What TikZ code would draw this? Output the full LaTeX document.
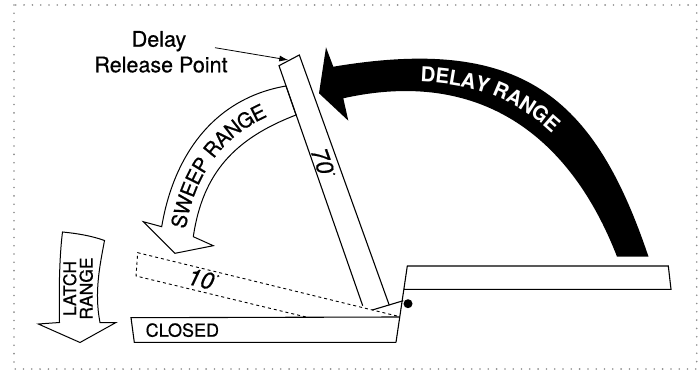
\documentclass[tikz,border=0pt]{standalone}
\usepackage{fontspec}
\setmainfont{TeX Gyre Heros}
\newfontfamily\heavy{TeX Gyre Heros}[FakeBold=0.6]
\newfontfamily\heavyit{TeX Gyre Heros Italic}[FakeBold=0.6]
\usetikzlibrary{decorations.text,arrows.meta}
\begin{document}
\begin{tikzpicture}[x=1pt,y=-1pt,
  frame/.style={draw=black!45, line width=1.8pt, line cap=round, dash pattern=on 0pt off 8.3pt},
  bar/.style={draw=black, line width=1.1pt, line join=miter},
  dashedarm/.style={draw=black, line width=0.9pt, dash pattern=on 3pt off 3pt},
  outlinearrow/.style={draw=black, fill=white, line width=1pt, line join=miter},
  lbl/.style={inner sep=0pt, font=\heavy\fontsize{21.5}{24}\selectfont},
  numlbl/.style={inner sep=0pt, font=\heavyit\fontsize{23.5}{23.5}\selectfont},
]
\useasboundingbox (0,0) rectangle (700,371);
\draw[frame] (14,5) rectangle (696.7,369);

% DELAY RANGE arrow (black)
\fill[black] (648.5,256.7) .. controls (594.1,95.2) and (520.6,35.35) .. (333.3,66.7)
  -- (326,47.3) -- (319,93.3) -- (348.3,120.7) -- (343.3,98.3)
  .. controls (480,67.8) and (570.2,135.8) .. (617,256.7) -- cycle;
\path[decorate, decoration={text along path,
  text={|\fontsize{20.5}{20.5}\selectfont\bfseries\color{white}|DELAY RANGE},
  text align={left, left indent=83pt}, raise=-7pt}]
  (338.3,82.5) .. controls (500.3,51.6) and (582.15,115.5) .. (632.75,256.7);

% SWEEP RANGE arrow (outline)
\filldraw[outlinearrow] (286,86) .. controls (212.1,98.75) and (173.2,157.7) .. (161.7,226.7)
  -- (143.3,221.7) -- (175,253.3) -- (213.3,245.7) -- (193.3,236.7)
  .. controls (202.7,172.4) and (235.4,138.3) .. (296,115) -- cycle;
\path[decorate, decoration={text along path,
  text={|\heavy\fontsize{20.5}{20.5}\selectfont|SWEEP RANGE},
  text align={left, left indent=4pt}, raise=-7.5pt}]
  (177.5,231.7) .. controls (187.95,165.05) and (223.75,118.5) .. (291,100.5);

% LATCH RANGE arrow
\filldraw[outlinearrow] (62.5,232) .. controls (78,233.5) and (92,236) .. (104.5,240.5)
  .. controls (100,265) and (94,292) .. (100,322.5) -- (116,322.5) -- (80,342.5)
  -- (38.3,324) -- (59.5,322.5) .. controls (59,295) and (59,260) .. (62.5,232) -- cycle;
\node[rotate=90, align=center, inner sep=0pt, font=\heavy\fontsize{17.5}{16.5}\selectfont] (latch) at (78,288.5) {LATCH\\RANGE};

% dashed 10 degree arm
\draw[dashedarm] (397,316) -- (137.7,252.7) -- (136,276) -- (306,317);

% closed bar and right bar
\draw[bar] (399.7,317) -- (131,317.7) -- (134.3,342.3) -- (396,342.3);
\draw[bar] (396,342.3) -- (407.3,266) -- (668.3,266) -- (671,289.3) -- (404,289.3);

% 70 degree arm
\draw[bar] (362.7,305.7) -- (279,65.7) -- (299.3,55) -- (389.3,305.3);
\draw[bar] (372.3,310) -- (403.3,300.7);

% pivot
\fill[black] (408,303.7) circle[radius=4.5pt];

% labels
\node[lbl, anchor=base] (dl1) at (159,46.7) {Delay};
\node[lbl, anchor=base] (dl2) at (161,72.3) {Release Point};
\coordinate (ls) at (215,47.7);
\coordinate (lt) at (288.3,60);
\draw[-{Latex[length=9pt,width=6pt]}, line width=0.8pt] (ls) -- (lt);

\node[inner sep=0pt, anchor=base west, font=\heavy\fontsize{18}{18}\selectfont] (closed) at (145.5,336.7) {CLOSED};
\node[numlbl, rotate=-13.4] (ten) at (201,279) {10\rlap{\raisebox{11pt}{\fontsize{7}{7}\selectfont\,°}}};
\node[numlbl, rotate=-70.6] (seventy) at (322.5,161) {70\rlap{\raisebox{11pt}{\fontsize{7}{7}\selectfont\,°}}};
\end{tikzpicture}
\end{document}
